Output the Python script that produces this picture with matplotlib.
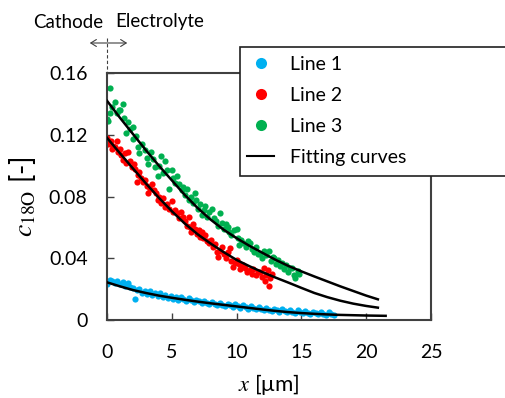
import matplotlib
matplotlib.use('Agg')
import matplotlib.pyplot as plt
from matplotlib.lines import Line2D
from matplotlib.patches import Rectangle, FancyArrowPatch

plt.rcParams['font.family'] = ['Lato', 'DejaVu Sans']
plt.rcParams['mathtext.fontset'] = 'stix'

# Line 1 (blue) measured points
blue_x = [0.0, 0.2, 0.4, 0.6, 0.8, 1.0, 1.2, 1.4, 1.6, 1.8, 2.0, 2.15, 2.3, 2.5, 2.7, 2.9,
          3.1, 3.3, 3.5, 3.7, 3.9, 4.1, 4.3, 4.5, 4.7, 4.9, 5.1, 5.3, 5.5, 5.7, 5.9, 6.1,
          6.3, 6.5, 6.7, 6.9, 7.1, 7.3, 7.5, 7.7, 7.9, 8.1, 8.3, 8.5, 8.7, 8.9, 9.1, 9.3,
          9.5, 9.7, 9.9, 10.1, 10.3, 10.5, 10.7, 10.9, 11.1, 11.3, 11.5, 11.7, 11.9, 12.1,
          12.3, 12.5, 12.7, 12.9, 13.1, 13.3, 13.5, 13.7, 13.9, 14.1, 14.3, 14.5, 14.7,
          14.9, 15.1, 15.3, 15.5, 15.7, 15.9, 16.1, 16.3, 16.5, 16.7, 16.9, 17.1, 17.3, 17.5]
blue_y = [0.0235, 0.0262, 0.0250, 0.0241, 0.0255, 0.0230, 0.0246, 0.0222, 0.0238, 0.0215,
          0.0210, 0.0134, 0.0196, 0.0204, 0.0178, 0.0191, 0.0170, 0.0186, 0.0162, 0.0175,
          0.0158, 0.0172, 0.0150, 0.0165, 0.0143, 0.0158, 0.0136, 0.0151, 0.0128, 0.0146,
          0.0133, 0.0121, 0.0140, 0.0127, 0.0115, 0.0132, 0.0120, 0.0108, 0.0125, 0.0112,
          0.0101, 0.0118, 0.0106, 0.0095, 0.0112, 0.0100, 0.0090, 0.0106, 0.0094, 0.0085,
          0.0101, 0.0089, 0.0080, 0.0095, 0.0084, 0.0074, 0.0090, 0.0078, 0.0069, 0.0085,
          0.0073, 0.0063, 0.0080, 0.0068, 0.0058, 0.0074, 0.0063, 0.0055, 0.0070, 0.0059,
          0.0050, 0.0066, 0.0055, 0.0047, 0.0062, 0.0051, 0.0043, 0.0058, 0.0047, 0.0040,
          0.0055, 0.0045, 0.0037, 0.0052, 0.0042, 0.0035, 0.0050, 0.0040, 0.0034]

# Line 2 (red) measured points
red_x = [0.0, 0.1, 0.2, 0.3, 0.36, 0.5, 0.6, 0.75, 0.87, 1.0, 1.1, 1.25, 1.4, 1.5, 1.64,
         1.8, 1.9, 2.05, 2.15, 2.3, 2.4, 2.5, 2.65, 2.8, 2.95, 3.1, 3.2, 3.3, 3.45, 3.6,
         3.8, 3.9, 4.05, 4.2, 4.35, 4.5, 4.65, 4.8, 5.0, 5.1, 5.25, 5.4, 5.55, 5.7, 5.85,
         6.0, 6.15, 6.3, 6.4, 6.5, 6.65, 6.8, 6.95, 7.1, 7.2, 7.3, 7.4, 7.55, 7.7, 7.9,
         8.05, 8.2, 8.35, 8.45, 8.6, 8.7, 8.85, 9.0, 9.15, 9.3, 9.5, 9.6, 9.7, 9.85, 10.0,
         10.15, 10.3, 10.5, 10.65, 10.8, 11.0, 11.15, 11.3, 11.5, 11.65, 11.8, 11.95,
         12.1, 12.2, 12.3, 12.4, 12.5, 12.6, 12.7]
red_y = [0.118, 0.114, 0.1146, 0.116, 0.111, 0.113, 0.112, 0.116, 0.109, 0.111, 0.107,
         0.1037, 0.108, 0.1016, 0.109, 0.103, 0.0994, 0.101, 0.098, 0.0897, 0.094, 0.096,
         0.092, 0.0897, 0.091, 0.087, 0.082, 0.085, 0.088, 0.084, 0.082, 0.078, 0.080,
         0.076, 0.079, 0.073, 0.075, 0.072, 0.077, 0.070, 0.071, 0.069, 0.066, 0.070,
         0.067, 0.064, 0.061, 0.067, 0.060, 0.057, 0.062, 0.059, 0.056, 0.058, 0.054,
         0.057, 0.053, 0.055, 0.051, 0.0497, 0.052, 0.047, 0.049, 0.044, 0.041, 0.045,
         0.047, 0.043, 0.040, 0.044, 0.0465, 0.038, 0.0346, 0.037, 0.039, 0.036, 0.033,
         0.0357, 0.034, 0.031, 0.0324, 0.030, 0.033, 0.029, 0.031, 0.031, 0.028, 0.034,
         0.025, 0.029, 0.0324, 0.022, 0.027, 0.030]

# Line 3 (green) measured points
green_x = [0.0, 0.1, 0.23, 0.23, 0.4, 0.62, 0.75, 0.9, 1.0, 1.2, 1.35, 1.5, 1.64, 1.8, 2.0,
           2.0, 2.2, 2.4, 2.5, 2.7, 2.9, 3.05, 3.2, 3.4, 3.55, 3.7, 3.9, 4.05, 4.2, 4.35,
           4.5, 4.6, 4.8, 5.0, 5.1, 5.25, 5.4, 5.55, 5.75, 5.9, 6.05, 6.2, 6.35, 6.5, 6.65,
           6.8, 6.9, 7.05, 7.2, 7.3, 7.45, 7.6, 7.75, 7.9, 8.1, 8.25, 8.4, 8.55, 8.7, 8.85,
           9.0, 9.15, 9.3, 9.45, 9.6, 9.8, 10.0, 10.1, 10.2, 10.35, 10.5, 10.7, 10.85, 11.0,
           11.2, 11.35, 11.5, 11.65, 11.8, 11.95, 12.1, 12.3, 12.5, 12.65, 12.8, 12.9, 13.05,
           13.2, 13.35, 13.5, 13.65, 13.8, 13.95, 14.1, 14.3, 14.4, 14.5, 14.7, 14.8]
green_y = [0.130, 0.129, 0.150, 0.134, 0.138, 0.141, 0.134, 0.136, 0.136, 0.140, 0.131,
           0.121, 0.128, 0.124, 0.125, 0.117, 0.119, 0.112, 0.108, 0.114, 0.110, 0.105,
           0.101, 0.109, 0.104, 0.099, 0.093, 0.100, 0.106, 0.095, 0.103, 0.097, 0.085,
           0.097, 0.092, 0.089, 0.093, 0.088, 0.084, 0.086, 0.081, 0.085, 0.078, 0.080,
           0.076, 0.082, 0.078, 0.072, 0.075, 0.068, 0.071, 0.074, 0.067, 0.070, 0.072,
           0.066, 0.064, 0.061, 0.069, 0.063, 0.059, 0.062, 0.0605, 0.057, 0.055, 0.058,
           0.059, 0.053, 0.0486, 0.052, 0.050, 0.047, 0.051, 0.0497, 0.046, 0.044, 0.047,
           0.043, 0.043, 0.040, 0.045, 0.042, 0.045, 0.038, 0.041, 0.040, 0.036, 0.039,
           0.035, 0.037, 0.033, 0.0357, 0.031, 0.034, 0.0335, 0.029, 0.027, 0.032, 0.030]

# Fitting curves
fit1_x = [0, 1, 2, 3, 4, 5, 6, 7, 8, 9, 10, 11, 12, 13, 14, 15, 16, 17, 18, 19, 20, 21.5]
fit1_y = [0.0244, 0.0218, 0.0194, 0.0175, 0.0158, 0.0144, 0.0131, 0.0119, 0.0108, 0.0098,
          0.0088, 0.0078, 0.0068, 0.0059, 0.0051, 0.0045, 0.0040, 0.0036, 0.0033, 0.0031,
          0.0029, 0.0027]
fit2_x = [0, 1, 2, 3, 4, 5, 6, 7, 8, 9, 10, 11, 12, 13, 14, 15, 16, 17, 18, 19, 20, 20.9]
fit2_y = [0.118, 0.108, 0.0982, 0.0885, 0.0792, 0.0705, 0.0625, 0.0555, 0.0495, 0.044,
          0.0389, 0.0348, 0.031, 0.0275, 0.0242, 0.0208, 0.0175, 0.0148, 0.0125, 0.0106,
          0.0091, 0.008]
fit3_x = [0, 1, 2, 3, 4, 5, 6, 7, 8, 9, 10, 11, 12, 13, 14, 15, 16, 17, 18, 19, 20, 20.9]
fit3_y = [0.142, 0.131, 0.1205, 0.110, 0.100, 0.0905, 0.081, 0.0725, 0.065, 0.0585, 0.053,
          0.048, 0.0435, 0.039, 0.035, 0.0315, 0.0282, 0.025, 0.0218, 0.0188, 0.0158, 0.0134]

x_ticks = [0, 5, 10, 15, 20, 25]
y_ticks = [0, 0.04, 0.08, 0.12, 0.16]
y_ticklabels = ['0', '0.04', '0.08', '0.12', '0.16']

c_blue = '#00B0F0'
c_red = '#FF0000'
c_green = '#00B050'

W, H = 505, 398
fig = plt.figure(figsize=(W / 100, H / 100), dpi=100)
ax = fig.add_axes([107 / W, 1 - 320 / H, 324 / W, 247 / H])

ax.scatter(blue_x, blue_y, s=20, color=c_blue, linewidths=0, zorder=2)
ax.scatter(red_x, red_y, s=20, color=c_red, linewidths=0, zorder=2)
ax.scatter(green_x, green_y, s=20, color=c_green, linewidths=0, zorder=2)
for fx, fy in [(fit1_x, fit1_y), (fit2_x, fit2_y), (fit3_x, fit3_y)]:
    ax.plot(fx, fy, color='black', lw=1.8, zorder=3)

ax.set_xlim(0, 25)
ax.set_ylim(0, 0.16)
ax.set_xticks(x_ticks)
ax.set_yticks(y_ticks)
ax.set_yticklabels(y_ticklabels)
ax.tick_params(direction='in', length=5, width=1, colors='#404040', labelcolor='black',
               labelsize=14)
ax.tick_params(axis='x', pad=17)
ax.tick_params(axis='y', pad=14)
for sp in ax.spines.values():
    sp.set_color('#404040')
    sp.set_linewidth(1.5)

ax.set_xlabel(r'$x$ [μm]', fontsize=16, labelpad=8)
ax.set_ylabel(r'$c_{\mathrm{18O}}$ [-]', fontsize=20, labelpad=8)

# Cathode / Electrolyte annotation
fig.text(33 / W, 1 - 22 / H, 'Cathode', fontsize=13.5, va='center', ha='left')
fig.text(115 / W, 1 - 22 / H, 'Electrolyte', fontsize=13.5, va='center', ha='left')
fig.add_artist(Line2D([107 / W, 107 / W], [1 - 38 / H, 1 - 73 / H], color='#404040',
                      lw=0.8, ls=(0, (3, 2))))
fig.add_artist(FancyArrowPatch((87 / W, 1 - 43 / H), (130 / W, 1 - 43 / H),
                               transform=fig.transFigure, arrowstyle='<->,head_length=4,head_width=2.5',
                               color='#404040', lw=0.8))

# Legend box (extends past the right edge)
fig.add_artist(Rectangle((240 / W, 1 - 176 / H), 300 / W, 129 / H, transform=fig.transFigure,
                         facecolor='white', edgecolor='#202020', lw=1.2, zorder=4))
handles = [
    Line2D([], [], ls='none', marker='o', ms=8, color=c_blue, mec='none'),
    Line2D([], [], ls='none', marker='o', ms=8, color=c_red, mec='none'),
    Line2D([], [], ls='none', marker='o', ms=8, color=c_green, mec='none'),
    Line2D([], [], color='black', lw=1.5),
]
labels = ['Line 1', 'Line 2', 'Line 3', 'Fitting curves']
leg = fig.legend(handles, labels, loc='upper left', bbox_to_anchor=(247 / W, 1 - 56 / H),
                 frameon=False, fontsize=14, handlelength=1.4, handletextpad=0.8,
                 labelspacing=0.72, borderpad=0, borderaxespad=0)
leg.set_zorder(5)

fig.savefig('out.png', dpi=100)
